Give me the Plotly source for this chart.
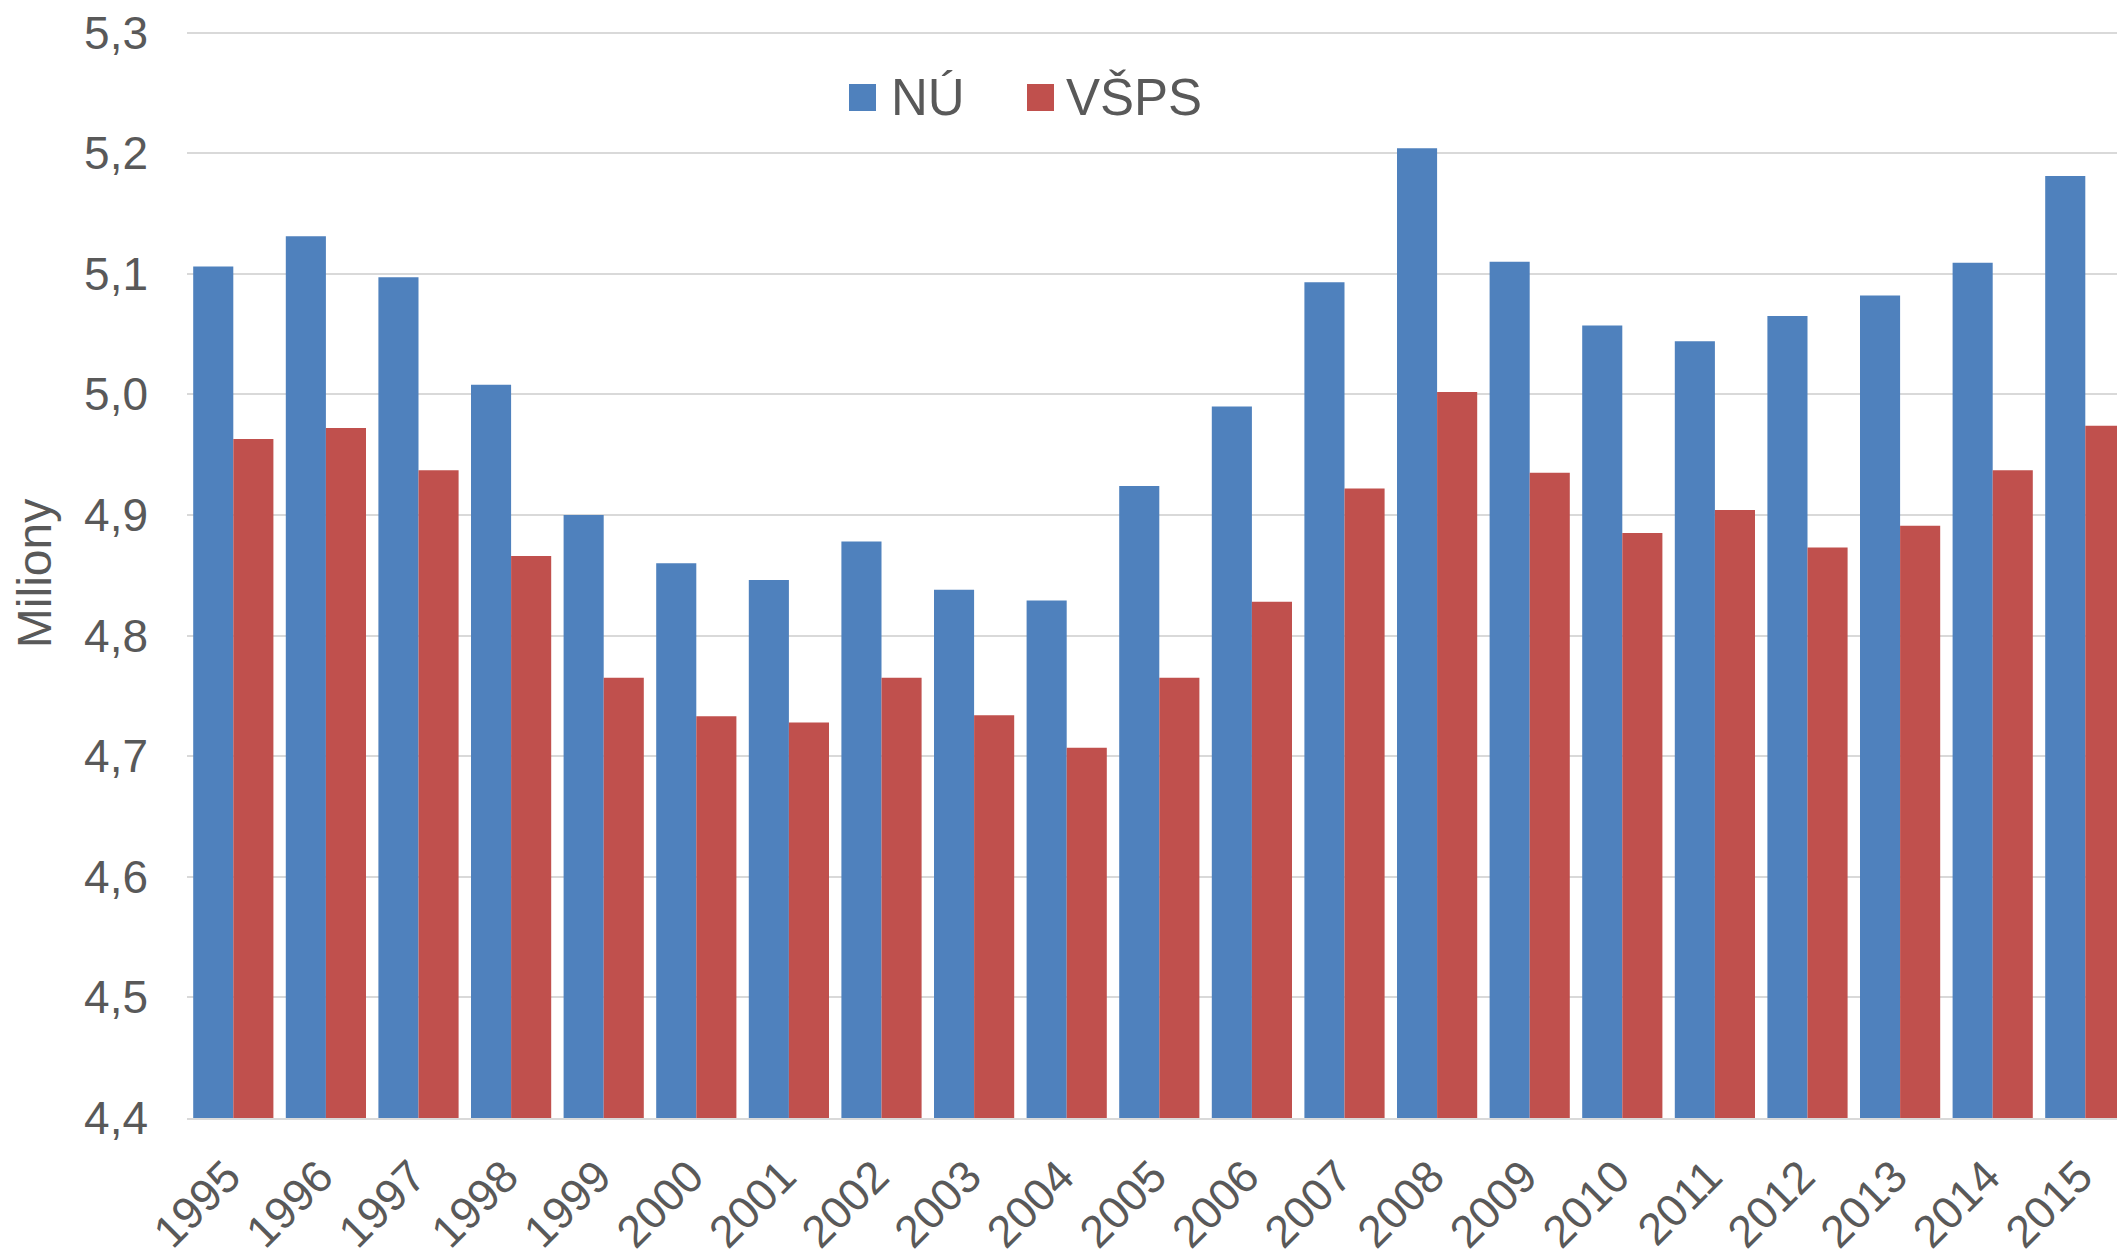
import plotly.graph_objects as go

years = [str(y) for y in range(1995, 2016)]
nu = [5.106, 5.131, 5.097, 5.008, 4.900, 4.860, 4.846, 4.878, 4.838, 4.829, 4.924,
      4.990, 5.093, 5.204, 5.110, 5.057, 5.044, 5.065, 5.082, 5.109, 5.181]
vsps = [4.963, 4.972, 4.937, 4.866, 4.765, 4.733, 4.728, 4.765, 4.734, 4.707, 4.765,
        4.828, 4.922, 5.002, 4.935, 4.885, 4.904, 4.873, 4.891, 4.937, 4.974]
series_names = ["NÚ", "VŠPS"]
colors = ["#4F81BD", "#C0504D"]
y_title = "Miliony"

FONT = "Liberation Sans, Arial, sans-serif"
TXT = "#595959"

fig = go.Figure()
for name, vals, col in zip(series_names, [nu, vsps], colors):
    fig.add_trace(go.Bar(x=years, y=vals, name=name, marker_color=col,
                         marker_line_width=0, showlegend=False))

# page body has an 8px margin: compensate so the plot lands where the reference has it
OFF = 8
W, H = 2125, 1254
ml, mr, mt, mb = 187 - OFF, 0, 21, 136 + OFF
pw, ph = W - ml - mr, H - mt - mb
px_per_unit = (1118 - 32.5) / 0.9
y_top = 4.4 + ph / px_per_unit

def px_x(x):
    return (x - OFF - ml) / pw

def px_y(y):
    return 1 - (y - OFF - mt) / ph

# manual legend (large square swatches)
leg = [(849, 892), (1027, 1067)]
for (sx, tx), name, col in zip(leg, series_names, colors):
    fig.add_shape(type="rect", xref="paper", yref="paper",
                  x0=px_x(sx), x1=px_x(sx + 27), y0=px_y(111), y1=px_y(84),
                  fillcolor=col, line_width=0)
    fig.add_annotation(xref="paper", yref="paper", x=px_x(tx - 3), y=px_y(97),
                       text=name, showarrow=False, xanchor="left", yanchor="middle",
                       font=dict(family=FONT, size=51, color=TXT))

fig.update_layout(
    width=W, height=H,
    margin=dict(l=ml, r=mr, t=mt, b=mb, autoexpand=False),
    paper_bgcolor="white", plot_bgcolor="white",
    barmode="group", bargap=0.134, bargroupgap=0,
    separators=", ",
    font=dict(family=FONT, color=TXT),
    showlegend=False,
)
fig.update_xaxes(
    type="category", range=[-0.5, -0.5 + pw / 92.6],
    tickangle=-45, tickfont=dict(size=45, color=TXT),
    ticklabelstandoff=12, ticklabelshift=-6,
    showline=True, linecolor="#D9D9D9", linewidth=2,
    ticks="", showgrid=False, automargin=False,
)
fig.update_yaxes(
    range=[4.4, y_top], dtick=0.1, tick0=4.4, tickformat=".1f",
    tickfont=dict(size=46, color=TXT), ticklabeloverflow="allow",
    showgrid=True, gridcolor="#D9D9D9", gridwidth=2,
    zeroline=False, showline=False, ticks="",
    ticklabelstandoff=38,
    title=dict(text=y_title, font=dict(size=48, color=TXT), standoff=22),
    automargin=False,
)

fig.write_html("out.html")
